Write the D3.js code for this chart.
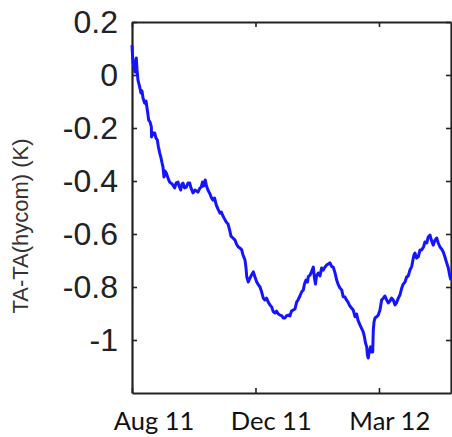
<!DOCTYPE html>
<html>
<head>
<meta charset="utf-8">
<script src="https://cdn.jsdelivr.net/npm/d3@7"></script>
<style>
  html, body { margin: 0; padding: 0; background: #fff; }
  svg { display: block; }
</style>
</head>
<body>
<svg id="chart" width="452" height="437"></svg>
<script>
// ---- data ----
const days = [0,0.5,1.0,1.9,2.9,3.4,4.2,4.9,5.8,7.3,8.7,9.7,10.7,12.3,13.6,14.9,16.2,17.5,18.8,19.0,
  20.4,22.1,23.3,24.6,25.7,26.9,28.2,29.2,30.1,31.1,32.1,33.3,35.0,36.6,38.9,41.5,42.8,44.7,45.7,47.3,
  48.6,49.6,51.0,52.8,54.4,56.1,57.3,59.3,61.2,64.1,66.1,67.3,68.5,69.5,71.2,72.4,73.8,75.8,77.3,78.7,
  80.2,81.9,83.6,85.5,86.8,88.4,89.9,91.6,93.3,94.9,96.2,98.1,100.1,101.5,103.3,104.9,106.6,107.9,109.8,110.8,
  111.5,113.0,114.7,116.1,117.9,119.5,121.2,122.9,124.4,126.0,127.6,129.2,130.7,132.4,134.1,135.7,137.3,139.0,140.4,142.2,
  143.8,145.8,147.0,148.7,150.1,151.9,153.5,155.0,156.7,158.4,160.0,161.3,163.2,164.9,166.5,167.6,169.1,170.5,171.3,173.0,
  174.4,176.2,177.3,178.3,179.3,181.0,182.7,184.3,185.9,187.5,189.2,190.7,192.4,194.1,195.6,197.3,198.9,200.5,202.1,203.8,
  205.3,207.0,208.4,209.9,211.8,213.3,215.0,216.7,218.3,219.6,221.5,223.0,224.8,225.9,226.9,228.1,228.8,229.6,230.6,231.9,
  232.9,233.9,234.5,235.2,236.1,237.8,239.3,241.0,242.6,244.2,245.8,247.5,249.0,250.7,252.2,253.9,255.6,257.0,258.8,260.4,
  262.1,263.6,265.3,266.9,268.5,270.1,271.8,273.0,274.0,275.0,276.5,278.2,279.9,281.5,283.3,284.7,286.4,287.9,289.6,291.2,
  292.8,294.4,296.1,297.6,299.3,300.9,302.5,304.1,305.8,307.4,309.0,310.0];
const diffK = [0.113,0.075,0.045,0.034,0.011,0.049,0.064,0.019,-0.019,-0.042,-0.068,-0.060,-0.087,-0.106,-0.098,-0.132,-0.170,-0.177,-0.196,-0.234,
  -0.219,-0.219,-0.238,-0.245,-0.272,-0.294,-0.313,-0.332,-0.347,-0.385,-0.362,-0.370,-0.389,-0.404,-0.411,-0.426,-0.408,-0.404,-0.419,-0.434,
  -0.411,-0.408,-0.426,-0.423,-0.408,-0.408,-0.426,-0.445,-0.434,-0.442,-0.426,-0.423,-0.404,-0.419,-0.396,-0.419,-0.434,-0.449,-0.464,-0.472,
  -0.464,-0.491,-0.506,-0.521,-0.517,-0.532,-0.543,-0.555,-0.562,-0.585,-0.608,-0.615,-0.623,-0.638,-0.649,-0.653,-0.660,-0.679,-0.698,-0.728,
  -0.762,-0.781,-0.766,-0.755,-0.743,-0.762,-0.781,-0.792,-0.800,-0.819,-0.842,-0.849,-0.842,-0.857,-0.868,-0.875,-0.893,-0.898,-0.891,-0.902,
  -0.906,-0.909,-0.917,-0.917,-0.909,-0.906,-0.909,-0.891,-0.887,-0.883,-0.857,-0.849,-0.834,-0.818,-0.811,-0.789,-0.774,-0.781,-0.761,-0.755,
  -0.743,-0.725,-0.766,-0.789,-0.758,-0.747,-0.758,-0.728,-0.736,-0.725,-0.717,-0.713,-0.709,-0.723,-0.725,-0.747,-0.774,-0.792,-0.804,-0.811,
  -0.837,-0.838,-0.849,-0.857,-0.872,-0.879,-0.887,-0.912,-0.902,-0.925,-0.943,-0.955,-0.970,-0.989,-1.011,-1.026,-1.057,-1.068,-1.042,-1.026,
  -1.045,-1.045,-0.962,-0.932,-0.917,-0.912,-0.906,-0.887,-0.849,-0.842,-0.834,-0.849,-0.860,-0.853,-0.842,-0.849,-0.868,-0.860,-0.842,-0.830,
  -0.804,-0.789,-0.781,-0.762,-0.758,-0.736,-0.723,-0.698,-0.679,-0.672,-0.691,-0.686,-0.660,-0.660,-0.649,-0.630,-0.634,-0.611,-0.604,-0.626,
  -0.642,-0.623,-0.615,-0.634,-0.649,-0.657,-0.668,-0.687,-0.709,-0.728,-0.761,-0.774];
const xTickDays = [0, 120, 240];
const xLabelDays = [21.4, 135.3, 250.5];
const xTickLabels = ["Aug 11", "Dec 11", "Mar 12"];
const yTicks = [0.2, 0, -0.2, -0.4, -0.6, -0.8, -1];
const yTickLabels = ["0.2", "0", "-0.2", "-0.4", "-0.6", "-0.8", "-1"];
const yTitle = "TA-TA(hycom) (K)";

// ---- layout ----
const svg = d3.select("#chart");
const L = 132, R = 451, T = 22, B = 393;
const x = d3.scaleLinear().domain([0, 310]).range([L, R]);
const y = d3.scaleLinear().domain([-1.2, 0.2]).range([B, T]);

const axisColor = "#222";

function styleAxis(g) {
  g.selectAll(".domain").attr("stroke", axisColor).attr("stroke-width", 2.2);
  g.selectAll(".tick line").attr("stroke", axisColor).attr("stroke-width", 1.6);
}

// left axis with labels
const gl = svg.append("g").attr("transform", `translate(${L},0)`)
  .call(d3.axisLeft(y).tickValues(yTicks).tickSizeInner(-5).tickSizeOuter(0).tickPadding(14)
    .tickFormat((d, i) => yTickLabels[i]));
styleAxis(gl);
gl.selectAll(".tick text")
  .attr("font-family", "'Liberation Sans', Arial, sans-serif")
  .attr("font-size", 32)
  .attr("fill", "#222");

// right axis
const gr = svg.append("g").attr("transform", `translate(${R},0)`)
  .call(d3.axisRight(y).tickValues(yTicks).tickSizeInner(-5).tickSizeOuter(0).tickFormat(""));
styleAxis(gr);

// bottom axis
const gb = svg.append("g").attr("transform", `translate(0,${B})`)
  .call(d3.axisBottom(x).tickValues(xTickDays).tickSizeInner(-5).tickSizeOuter(0).tickFormat(""));
styleAxis(gb);

// top axis
const gt = svg.append("g").attr("transform", `translate(0,${T})`)
  .call(d3.axisTop(x).tickValues(xTickDays).tickSizeInner(-5).tickSizeOuter(0).tickFormat(""));
styleAxis(gt);

// x labels
svg.append("g").selectAll("text").data(xTickLabels).join("text")
  .attr("x", (d, i) => x(xLabelDays[i]))
  .attr("y", 430)
  .attr("text-anchor", "middle")
  .attr("font-family", "Lato, 'Open Sans', sans-serif")
  .attr("font-size", 25.5)
  .attr("fill", "#111")
  .text(d => d);

// y title
svg.append("text")
  .attr("transform", "translate(28,226) rotate(-90)")
  .attr("text-anchor", "middle")
  .attr("font-family", "'Liberation Sans', Arial, sans-serif")
  .attr("font-size", 22)
  .attr("fill", "#333")
  .text(yTitle);

// line
const pts = days.map((d, i) => [d, diffK[i]]);
svg.append("path")
  .datum(pts)
  .attr("fill", "none")
  .attr("stroke", "#1414ff")
  .attr("stroke-width", 3)
  .attr("stroke-linejoin", "round")
  .attr("d", d3.line().x(d => x(d[0])).y(d => y(d[1])));
</script>
</body>
</html>
